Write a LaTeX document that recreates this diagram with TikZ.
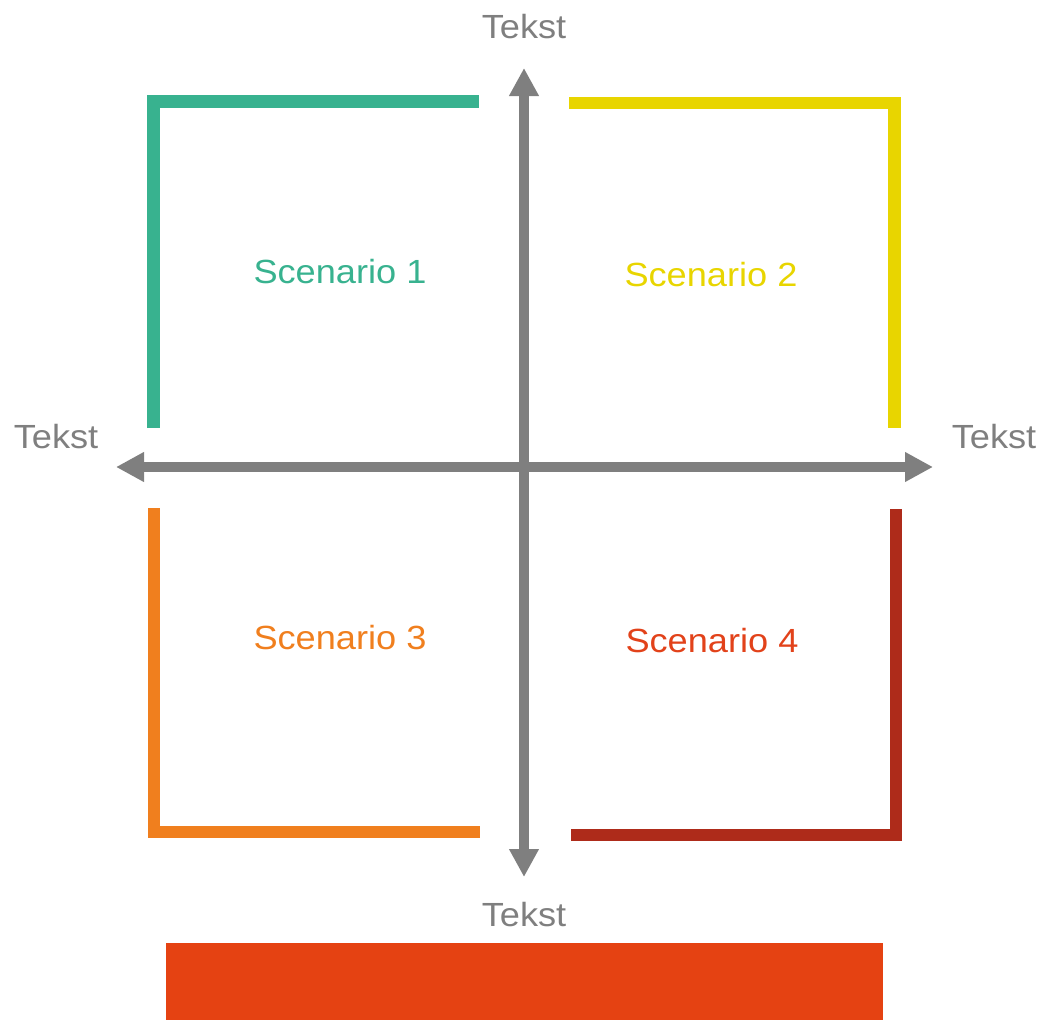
\documentclass[tikz,border=0pt]{standalone}
\usepackage{fontspec}
\setmainfont{Liberation Sans}[FakeStretch=1.08]
\usetikzlibrary{arrows.meta}
\definecolor{axisgray}{HTML}{7F7F7F}
\definecolor{sone}{HTML}{38B28F}
\definecolor{stwo}{HTML}{E8D500}
\definecolor{sthree}{HTML}{F07F1E}
\definecolor{sfour}{HTML}{AE2B1A}
\definecolor{sfourtext}{HTML}{E2421A}
\definecolor{barred}{HTML}{E54212}
\begin{document}
\begin{tikzpicture}[x=1pt,y=-1pt,
  axis/.style={draw=axisgray,line width=9.5pt,{Triangle[length=28pt,width=28pt]}-{Triangle[length=28pt,width=28pt]}},
  bracket/.style={line width=12.5pt,line join=miter,line cap=butt},
  lbl/.style={font=\fontsize{33.5}{40}\selectfont,inner sep=0pt},
  axislbl/.style={lbl,text=axisgray}]
\useasboundingbox (0,0) rectangle (1037,1020);
% axes
\coordinate (top) at (524,68);
\coordinate (bottom) at (524,877);
\coordinate (left) at (116,467);
\coordinate (right) at (933,467);
\draw[axis] (left) -- (right);
\draw[axis] (top) -- (bottom);
% brackets
\coordinate (a1) at (153.5,428);
\coordinate (a2) at (153.5,101.5);
\coordinate (a3) at (479,101.5);
\draw[bracket,sone] (a1) -- (a2) -- (a3);
\coordinate (b1) at (569,103);
\coordinate (b2) at (894.5,103);
\coordinate (b3) at (894.5,428);
\draw[bracket,stwo] (b1) -- (b2) -- (b3);
\coordinate (c1) at (154,508);
\coordinate (c2) at (154,832);
\coordinate (c3) at (480,832);
\draw[bracket,sthree] (c1) -- (c2) -- (c3);
\coordinate (d1) at (896,509);
\coordinate (d2) at (896,835);
\coordinate (d3) at (571,835);
\draw[bracket,sfour] (d1) -- (d2) -- (d3);
% labels
\node[axislbl] (ttop) at (524,27) {Tekst};
\node[axislbl] (tbottom) at (524,915) {Tekst};
\node[axislbl] (tleft) at (56,437) {Tekst};
\node[axislbl] (tright) at (994,437) {Tekst};
\node[lbl,text=sone] (s1) at (340,272) {Scenario 1};
\node[lbl,text=stwo] (s2) at (711,275) {Scenario 2};
\node[lbl,text=sthree] (s3) at (340,638) {Scenario 3};
\node[lbl,text=sfourtext] (s4) at (712,641) {Scenario 4};
% bottom bar
\node[fill=barred,minimum width=717pt,minimum height=77pt,inner sep=0pt,anchor=north west] (bar) at (166,943) {};
\end{tikzpicture}
\end{document}
